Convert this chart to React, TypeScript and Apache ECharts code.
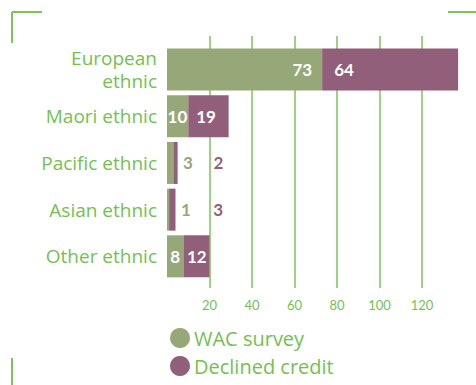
import React, { useEffect, useRef } from "react";
import * as echarts from "echarts";

const categories = ["European\nethnic", "Maori ethnic", "Pacific ethnic", "Asian ethnic", "Other ethnic"];
const wacSurvey = [73, 10, 3, 1, 8];
const declinedCredit = [64, 19, 2, 3, 12];
const seriesNames = ["WAC survey", "Declined credit"];

const GREEN_TEXT = "#74bf52";
const GREEN_LINE = "#7cc35c";
const BAR_GREEN = "#97a878";
const BAR_PURPLE = "#925f7b";
const FONT = "Lato, 'Open Sans', sans-serif";
const WIDE_FONT = "'Open Sans', Lato, sans-serif";

// label placement per bar (styling only)
const wacLabelPos: any[] = [
  { position: "insideRight", distance: 10 },
  { position: "insideRight", distance: 1 },
  { position: [16, "50%"], color: BAR_GREEN },
  { position: [14, "50%"], color: BAR_GREEN },
  { position: "insideRight", distance: 4 },
];
const decLabelPos: any[] = [
  { position: "insideLeft", distance: 12 },
  { position: "insideLeft", distance: 8 },
  { position: [40, "50%"], color: BAR_PURPLE },
  { position: [44, "50%"], color: BAR_PURPLE },
  { position: "insideLeft", distance: 3 },
];

function mkData(values: number[], pos: any[]) {
  return values.map((v, i) => {
    const p = pos[i];
    const label: any = {
      show: true,
      position: p.position,
      color: p.color || "#ffffff",
    };
    if (p.distance !== undefined) label.distance = p.distance;
    if (Array.isArray(p.position)) {
      label.align = "left";
      label.verticalAlign = "middle";
    }
    return { value: v, label };
  });
}

export default function App() {
  const ref = useRef<HTMLDivElement>(null);
  useEffect(() => {
    if (!ref.current) return;
    const chart = echarts.init(ref.current, null, { renderer: "svg" });
    const left = 167;
    const right = 476 - 464.5;
    chart.setOption({
      animation: false,
      textStyle: { fontFamily: FONT },
      grid: [
        { left, right, top: 46.2, bottom: 385 - 279.7 },
        { left, right, top: 36, bottom: 97 },
      ],
      xAxis: [
        { gridIndex: 0, type: "value", min: 0, max: 140, interval: 20, show: false },
        {
          gridIndex: 1,
          type: "value",
          min: 0,
          max: 140,
          interval: 20,
          axisLine: { show: false },
          axisTick: { show: false },
          splitLine: {
            show: true,
            showMinLine: false,
            showMaxLine: false,
            lineStyle: { color: GREEN_LINE, width: 1.5 },
          },
          axisLabel: {
            showMinLabel: false,
            showMaxLabel: false,
            color: GREEN_TEXT,
            fontSize: 13,
            margin: 10,
            fontFamily: FONT,
          },
        },
      ],
      yAxis: [
        {
          gridIndex: 0,
          type: "category",
          data: categories,
          inverse: true,
          axisLine: { show: false },
          axisTick: { show: false },
          axisLabel: {
            color: GREEN_TEXT,
            fontSize: 19,
            margin: 10,
            lineHeight: 23,
            fontFamily: WIDE_FONT,
          },
        },
        { gridIndex: 1, type: "value", min: 0, max: 1, show: false },
      ],
      legend: {
        orient: "vertical",
        left: 165,
        top: 323,
        itemWidth: 20,
        itemHeight: 20,
        itemGap: 8,
        icon: "circle",
        data: seriesNames,
        textStyle: { color: GREEN_TEXT, fontSize: 20, fontFamily: WIDE_FONT, padding: [0, 0, 0, -1] },
      },
      series: [
        {
          name: seriesNames[0],
          type: "bar",
          stack: "total",
          xAxisIndex: 0,
          yAxisIndex: 0,
          barCategoryGap: "10%",
          itemStyle: { color: BAR_GREEN },
          label: { show: true, fontSize: 17, fontWeight: "bold", fontFamily: FONT },
          data: mkData(wacSurvey, wacLabelPos),
          z: 3,
        },
        {
          name: seriesNames[1],
          type: "bar",
          stack: "total",
          xAxisIndex: 0,
          yAxisIndex: 0,
          barCategoryGap: "10%",
          itemStyle: { color: BAR_PURPLE },
          label: { show: true, fontSize: 17, fontWeight: "bold", fontFamily: FONT },
          data: mkData(declinedCredit, decLabelPos),
          z: 3,
        },
      ],
      graphic: [
        { type: "line", shape: { x1: 12, y1: 12, x2: 42, y2: 12 }, style: { stroke: GREEN_LINE, lineWidth: 2 } },
        { type: "line", shape: { x1: 12, y1: 12, x2: 12, y2: 43 }, style: { stroke: GREEN_LINE, lineWidth: 2 } },
        { type: "line", shape: { x1: 448, y1: 12, x2: 476, y2: 12 }, style: { stroke: GREEN_LINE, lineWidth: 2 } },
        { type: "line", shape: { x1: 12, y1: 358, x2: 12, y2: 385 }, style: { stroke: GREEN_LINE, lineWidth: 2 } },
      ],
    });
    return () => chart.dispose();
  }, []);
  return <div ref={ref} style={{ width: 476, height: 385, position: "absolute", left: 0, top: 0 }} />;
}
